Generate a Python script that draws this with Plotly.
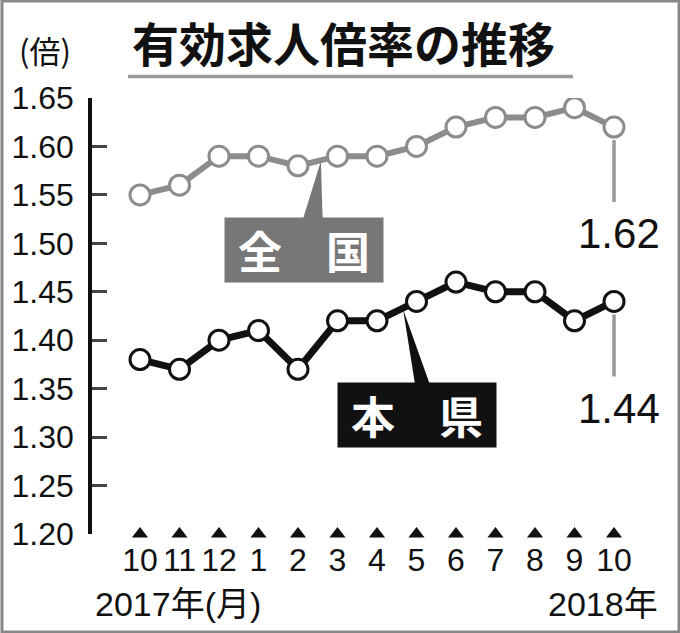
import plotly.graph_objects as go

months = ["10", "11", "12", "1", "2", "3", "4", "5", "6", "7", "8", "9", "10"]
national = [1.55, 1.56, 1.59, 1.59, 1.58, 1.59, 1.59, 1.60, 1.62, 1.63, 1.63, 1.64, 1.62]
prefecture = [1.38, 1.37, 1.40, 1.41, 1.37, 1.42, 1.42, 1.44, 1.46, 1.45, 1.45, 1.42, 1.44]
y_ticks = [1.20, 1.25, 1.30, 1.35, 1.40, 1.45, 1.50, 1.55, 1.60, 1.65]
y_tick_text = ["%.2f" % v for v in y_ticks]

Y_MIN, Y_MAX = 1.20, 1.65
idx = list(range(len(months)))

NUM = "Liberation Sans, Arial, sans-serif"
JP = "Noto Sans CJK JP, sans-serif"
MIX = "Liberation Sans, Noto Sans CJK JP, sans-serif"
GRAY = "#8c8c8c"
BLACK = "#111111"

fig = go.Figure()

# national line
fig.add_trace(go.Scatter(
    x=idx, y=national, mode="lines+markers",
    line=dict(color=GRAY, width=6),
    marker=dict(symbol="circle", size=20, color="white", line=dict(color=GRAY, width=3)),
    hoverinfo="skip", showlegend=False))

# prefecture line
fig.add_trace(go.Scatter(
    x=idx, y=prefecture, mode="lines+markers",
    line=dict(color=BLACK, width=7),
    marker=dict(symbol="circle", size=20, color="white", line=dict(color=BLACK, width=3)),
    hoverinfo="skip", showlegend=False))

# month tick markers
fig.add_trace(go.Scatter(
    x=idx, y=[Y_MIN] * len(idx), mode="markers",
    marker=dict(symbol="triangle-up", size=14, color=BLACK),
    cliponaxis=False, hoverinfo="skip", showlegend=False))

shapes = []
annotations = []

# pointer wedges (layer below traces)
shapes.append(dict(type="path", xref="x", yref="y", layer="below",
                   path="M 4.05 1.515 L 4.63 1.515 L 4.58 1.585 Z",
                   fillcolor="#777777", line=dict(width=0)))
shapes.append(dict(type="path", xref="x", yref="y", layer="below",
                   path="M 7.00 1.345 L 7.42 1.345 L 6.66 1.432 Z",
                   fillcolor=BLACK, line=dict(width=0)))

# label boxes
annotations.append(dict(x=4.152, y=1.4931, xref="x", yref="y", text="<b>全　国</b>",
                        showarrow=False, font=dict(family=JP, size=44, color="white"),
                        bgcolor="#777777", width=158, height=64, align="center", valign="middle",
                        borderpad=0))
annotations.append(dict(x=7.0, y=1.3228, xref="x", yref="y", text="<b>本　県</b>",
                        showarrow=False, font=dict(family=JP, size=44, color="white"),
                        bgcolor=BLACK, width=158, height=64, align="center", valign="middle",
                        borderpad=0))

# end value callouts
for series in (national, prefecture):
    xl = idx[-1]
    v = series[-1]
    shapes.append(dict(type="line", xref="x", yref="y", x0=xl, x1=xl,
                       y0=v - 0.0134, y1=v - 0.0774,
                       line=dict(color="#999999", width=3.5)))
    annotations.append(dict(x=xl, y=v - 0.110, xref="x", yref="y", text="%.2f" % v,
                            showarrow=False, xshift=5,
                            font=dict(family=NUM, size=42, color=BLACK)))

# title
annotations.append(dict(x=0.0693, y=1.130, xref="paper", yref="paper", xanchor="left",
                        yanchor="middle", text="<b>有効求人倍率の推移</b>", showarrow=False,
                        font=dict(family=JP, size=47, color=BLACK)))
shapes.append(dict(type="line", xref="paper", yref="paper", x0=0.0657, x1=0.8777,
                   y0=1.0493, y1=1.0493, line=dict(color="#999999", width=3.5)))

# unit label
annotations.append(dict(x=-0.137, y=1.112, xref="paper", yref="paper", xanchor="left",
                        yanchor="middle", text="(倍)", showarrow=False,
                        font=dict(family=JP, size=31, color=BLACK)))

# year labels
annotations.append(dict(x=0.0018, y=-0.1606, xref="paper", yref="paper", xanchor="left",
                        yanchor="middle", text="2017年(月)", showarrow=False,
                        font=dict(family=MIX, size=34, color=BLACK)))
annotations.append(dict(x=1.0365, y=-0.1606, xref="paper", yref="paper", xanchor="right",
                        yanchor="middle", text="2018年", showarrow=False,
                        font=dict(family=MIX, size=34, color=BLACK)))

# border
shapes.append(dict(type="rect", xref="paper", yref="paper", x0=-0.1643, x1=1.0712,
                   y0=-0.2248, y1=1.2225, line=dict(color="#888888", width=3)))

fig.update_layout(
    width=680, height=633,
    margin=dict(l=92, r=40, t=98, b=99, autoexpand=False),
    paper_bgcolor="white", plot_bgcolor="white",
    xaxis=dict(range=[-1.215, 12.658], tickmode="array", tickvals=idx, ticktext=months,
               showline=False, showgrid=False, zeroline=False, ticks="", tickangle=0,
               automargin=False,
               tickfont=dict(family=NUM, size=32, color=BLACK), ticklabelstandoff=4),
    yaxis=dict(range=[Y_MIN, Y_MAX], tickmode="array", tickvals=y_ticks, ticktext=y_tick_text,
               showline=True, linecolor=BLACK, linewidth=3.5, mirror=False,
               ticks="inside", ticklen=15, tickwidth=3, tickcolor="#444444",
               showgrid=False, zeroline=False, automargin=False,
               tickfont=dict(family=NUM, size=32, color=BLACK), ticklabelstandoff=8),
    shapes=shapes, annotations=annotations,
)

fig.write_html("out.html", config={"displayModeBar": False},
               post_script="document.body.style.margin='0';document.body.style.overflow='hidden';")
